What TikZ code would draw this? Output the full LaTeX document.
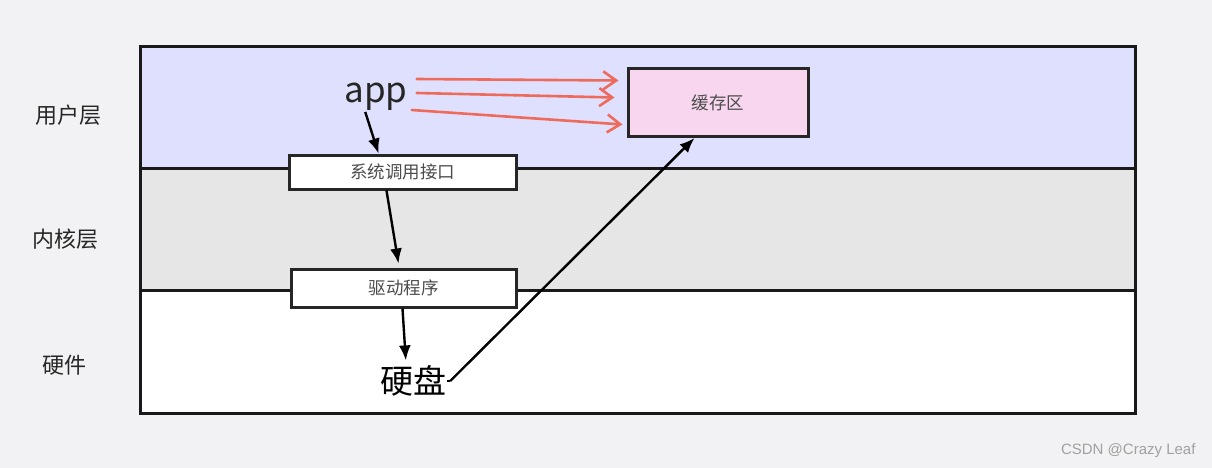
\documentclass[tikz,border=0pt]{standalone}
\usepackage{fontspec}
\setmainfont{Noto Sans CJK SC}
\usepackage{tikz}
\usetikzlibrary{arrows.meta,positioning,calc}
\definecolor{pagebg}{HTML}{F2F2F4}
\definecolor{userbg}{HTML}{DFDFFE}
\definecolor{kernbg}{HTML}{E6E6E6}
\definecolor{cachebg}{HTML}{F8D6EF}
\definecolor{redpen}{HTML}{EE6B5B}
\definecolor{wmgray}{HTML}{A0A0A0}

\begin{document}
\begin{tikzpicture}[x=1pt,y=-1pt,
    layer/.style={draw=black!90, line width=3pt},
    lbl/.style={font=\fontsize{22}{26}\selectfont, text=black!85},
    box/.style={draw=black!85, line width=3pt, fill=white, inner sep=0pt,
                font=\fontsize{17.5}{20}\selectfont, text=black!70},
    flow/.style={-{Latex[length=15pt,width=12pt]}, line width=2.4pt},
    pen/.style={redpen, line width=2.6pt, line cap=round,
                -{Straight Barb[length=13pt,width=18pt]}},
]
\fill[pagebg] (0,0) rectangle (1212,468);
\useasboundingbox (0,0) rectangle (1212,468);

% layers
\draw[layer,fill=userbg] (140,47) rectangle (1135,168);
\draw[layer,fill=kernbg] (140,168) rectangle (1135,290);
\draw[layer,fill=white] (140,290) rectangle (1135,413);

\node[lbl] (luser) at (68,115) {用户层};
\node[lbl] (lkern) at (65,239) {内核层};
\node[lbl] (lhw) at (64,365) {硬件};

% parts
\node[font=\fontsize{35}{38}\selectfont, text=black!85, inner sep=1pt] (app) at (376,97) {app};
\node[box, fill=cachebg, minimum width=180pt, minimum height=68pt] (cache) at (718,102.5) {缓存区};
\node[box, minimum width=227pt, minimum height=34pt] (syscall) at (402.5,172) {系统调用接口};
\node[box, minimum width=225pt, minimum height=38pt] (driver) at (403.5,288) {驱动程序};
\node[font=\fontsize{33}{36}\selectfont, text=black, inner sep=1pt] (disk) at (413,381) {硬盘};

% flow
\draw[flow] ($(app.south west)+(22,0)$) -- ($(syscall.north west)+(91,0)$);
\draw[flow] ($(syscall.south west)+(99,0)$) -- ($(driver.north west)+(109,-4)$);
\draw[flow] ($(driver.south west)+(113,0)$) -- ($(disk.north west)+(27,-4)$);
\draw[line width=2.4pt] (disk.east) -- ++(3,0) coordinate (dk);
\draw[flow] (dk) -- ($(cache.south west)+(68,0)$);

% red pen strokes
\draw[pen] ($(app.east)+(8,-18)$) -- ($(cache.west)+(-8,-22)$);
\draw[pen] ($(app.east)+(8,-4)$) -- ($(cache.west)+(-12,-5)$);
\draw[pen] ($(app.east)+(3,13)$) -- ($(cache.west)+(-4,22)$);

\node[font=\fontsize{15}{17}\selectfont, text=wmgray, anchor=east] (wm) at (1199,451) {\fontspec{Liberation Sans}CSDN @Crazy Leaf};
\end{tikzpicture}
\end{document}
